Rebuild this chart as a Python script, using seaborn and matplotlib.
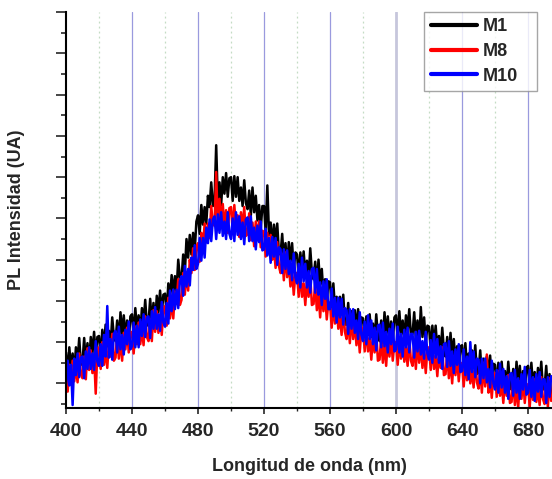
import numpy as np
import pandas as pd
import seaborn as sns
import matplotlib
matplotlib.use("Agg")
import matplotlib.pyplot as plt
from matplotlib.ticker import MultipleLocator, FixedLocator
from matplotlib.lines import Line2D

# Wavelength grid (nm), 1 nm step, 400..694
wavelength = list(range(400, 695))

# PL intensity (a.u.), one row per 10 nm
m1 = [50, 29, 55, 34, 49, 30, 55, 41, 64, 38,
      41, 64, 40, 59, 38, 65, 49, 70, 46, 65,
      66, 45, 72, 55, 77, 56, 71, 56, 84, 65,
      61, 81, 60, 89, 67, 86, 64, 81, 60, 85,
      87, 66, 93, 71, 86, 68, 93, 79, 101, 76,
      79, 102, 78, 98, 77, 105, 89, 110, 87, 106,
      107, 88, 117, 102, 125, 107, 124, 110, 140, 123,
      121, 145, 127, 160, 142, 164, 145, 166, 149, 177,
      183, 165, 193, 174, 191, 175, 202, 191, 215, 192,
      197, 251, 195, 215, 193, 220, 204, 224, 201, 219,
      220, 197, 221, 201, 220, 197, 210, 192, 217, 195,
      189, 207, 183, 210, 186, 202, 178, 193, 170, 192,
      192, 167, 212, 164, 176, 153, 174, 157, 175, 146,
      145, 165, 139, 156, 132, 157, 138, 156, 130, 147,
      145, 123, 147, 129, 148, 126, 139, 122, 151, 127,
      121, 138, 114, 140, 116, 131, 106, 121, 97, 119,
      118, 94, 117, 92, 104, 82, 104, 87, 106, 77,
      77, 98, 72, 90, 67, 91, 73, 92, 67, 84,
      83, 61, 85, 67, 87, 65, 78, 61, 87, 66,
      61, 81, 59, 89, 67, 85, 63, 80, 60, 84,
      86, 64, 90, 67, 81, 62, 86, 71, 92, 66,
      68, 89, 63, 81, 58, 94, 65, 84, 59, 76,
      75, 52, 76, 57, 76, 53, 66, 48, 74, 52,
      46, 65, 42, 69, 46, 63, 40, 56, 33, 56,
      57, 35, 59, 36, 49, 29, 52, 37, 57, 29,
      31, 52, 26, 44, 21, 46, 28, 47, 22, 39,
      38, 16, 40, 22, 41, 19, 32, 15, 41, 20,
      14, 34, 12, 41, 19, 37, 15, 32, 11, 35,
      37, 15, 40, 17, 31, 11, 35, 20, 41, 14,
      16, 37, 11, 29, 7]
m8 = [33, 12, 38, 21, 42, 22, 37, 21, 49, 29,
      25, 46, 24, 54, 33, 52, 30, 48, 10, 52,
      55, 34, 60, 38, 53, 35, 60, 46, 68, 42,
      45, 68, 44, 63, 42, 69, 53, 74, 50, 69,
      70, 49, 75, 58, 79, 58, 73, 57, 85, 65,
      61, 82, 61, 91, 70, 90, 69, 87, 67, 92,
      95, 76, 103, 83, 100, 83, 109, 97, 121, 96,
      101, 127, 106, 128, 110, 140, 127, 151, 130, 152,
      156, 138, 166, 152, 175, 157, 175, 161, 192, 174,
      173, 225, 170, 199, 176, 194, 171, 188, 166, 190,
      191, 168, 193, 169, 183, 162, 186, 170, 191, 163,
      165, 185, 159, 176, 153, 177, 159, 177, 152, 168,
      167, 143, 166, 146, 164, 140, 151, 132, 157, 134,
      127, 145, 120, 147, 123, 138, 114, 129, 106, 127,
      127, 104, 128, 104, 117, 96, 120, 104, 124, 96,
      97, 117, 91, 108, 84, 109, 90, 108, 82, 99,
      97, 74, 97, 78, 96, 73, 85, 67, 92, 70,
      63, 82, 59, 86, 63, 80, 57, 73, 50, 73,
      74, 51, 75, 51, 64, 43, 66, 50, 70, 42,
      43, 65, 40, 59, 37, 63, 46, 66, 42, 60,
      60, 38, 62, 44, 63, 41, 55, 37, 64, 42,
      37, 57, 34, 63, 40, 58, 35, 52, 30, 54,
      55, 33, 57, 34, 47, 27, 50, 35, 55, 28,
      29, 50, 25, 43, 20, 46, 28, 47, 22, 40,
      39, 17, 41, 23, 42, 20, 33, 16, 42, 21,
      15, 34, 11, 40, 17, 48, 11, 27, 6, 29,
      30, 7, 32, 8, 21, 1, 24, 8, 28, 1,
      2, 24, -1, 18, -4, 22, 5, 25, 1, 19,
      19, -3, 22, 4, 24, 2, 16, -1, 26, 5,
      0, 19, -3, 25, 3]
m10 = [19, 42, 18, 38, -1, 44, 28, 49, 26, 45,
       46, 25, 51, 34, 55, 34, 49, 33, 61, 41,
       37, 58, 37, 67, 46, 95, 45, 63, 43, 68,
       71, 50, 75, 53, 67, 48, 72, 58, 80, 53,
       56, 79, 55, 76, 55, 82, 66, 87, 65, 84,
       85, 64, 90, 73, 94, 73, 87, 71, 99, 79,
       75, 98, 78, 110, 90, 111, 92, 111, 93, 119,
       124, 105, 134, 114, 131, 115, 142, 130, 154, 131,
       136, 161, 139, 161, 142, 171, 156, 179, 158, 179,
       182, 160, 184, 166, 186, 163, 177, 160, 186, 165,
       160, 180, 158, 186, 164, 182, 160, 176, 155, 179,
       181, 158, 182, 158, 171, 150, 173, 157, 177, 149,
       150, 170, 144, 161, 137, 162, 143, 161, 135, 152,
       150, 127, 150, 131, 149, 126, 139, 120, 146, 123,
       117, 136, 113, 142, 119, 136, 113, 129, 108, 131,
       132, 108, 131, 106, 118, 96, 119, 102, 121, 92,
       92, 112, 85, 103, 79, 103, 84, 102, 77, 93,
       91, 68, 92, 73, 92, 69, 81, 63, 89, 67,
       61, 80, 58, 86, 63, 81, 58, 74, 52, 76,
       77, 55, 79, 56, 70, 50, 73, 58, 78, 51,
       53, 75, 50, 68, 46, 72, 55, 74, 50, 68,
       68, 45, 70, 51, 71, 48, 61, 44, 70, 49,
       43, 62, 40, 68, 45, 63, 40, 56, 34, 58,
       59, 36, 61, 37, 51, 30, 53, 38, 58, 31,
       32, 53, 28, 46, 24, 60, 31, 51, 26, 44,
       43, 20, 44, 25, 44, 21, 34, 16, 42, 20,
       14, 33, 11, 39, 16, 34, 11, 27, 5, 29,
       30, 8, 33, 11, 25, 5, 29, 14, 36, 9,
       11, 33, 7, 26, 3, 29, 12, 31, 7, 24,
       24, 1, 26, 7, 27]

labels = ["M1", "M8", "M10"]
colors = ["#000000", "#ff0000", "#0000ff"]
x_ticks = [400, 440, 480, 520, 560, 600, 640, 680]

df = pd.concat([
    pd.DataFrame({"wl": wavelength, "I": vals, "muestra": lab})
    for vals, lab in zip([m1, m8, m10], labels)
], ignore_index=True)

sns.set_style("ticks")
plt.rcParams["font.family"] = ["Liberation Sans", "DejaVu Sans"]
plt.rcParams["font.weight"] = "bold"

fig = plt.figure(figsize=(5.52, 4.79), dpi=100)
ax = fig.add_axes([0.1196, 0.1482, 0.8804, 0.8267])

# grid lines
for xv in [440, 480, 520, 560, 640, 680]:
    ax.axvline(xv, color="#9a9ade", lw=0.9, zorder=0)
ax.axvline(600, color="#c6c6dc", lw=2.0, zorder=0)
for xv in [420, 460, 500, 540, 580, 620, 660]:
    ax.axvline(xv, color="#c4dcc4", lw=0.9, ls=(0, (1.5, 2.5)), zorder=0)

sns.lineplot(data=df, x="wl", y="I", hue="muestra", hue_order=labels,
             palette=colors, estimator=None, sort=False, linewidth=1.8, ax=ax,
             legend=False, zorder=2)

ax.set_xlim(400, 694.5)
ax.set_ylim(-3.9, 380.2)

ax.xaxis.set_major_locator(FixedLocator(x_ticks))
ax.xaxis.set_minor_locator(MultipleLocator(20))
ax.yaxis.set_major_locator(FixedLocator(list(range(20, 381, 40))))
ax.yaxis.set_minor_locator(FixedLocator(list(range(0, 361, 40))))
ax.set_xticklabels([str(v) for v in x_ticks], fontsize=14, fontweight="bold")
ax.set_yticklabels([])
ax.tick_params(axis="x", which="major", direction="out", length=4, width=1.2, pad=7)
ax.tick_params(axis="x", which="minor", direction="out", length=2.5, width=1.0)
ax.tick_params(axis="y", which="major", direction="out", length=7, width=1.2)
ax.tick_params(axis="y", which="minor", direction="out", length=3.5, width=1.2)

for s in ["top", "right"]:
    ax.spines[s].set_visible(False)
for s in ["left", "bottom"]:
    ax.spines[s].set_linewidth(1.5)
    ax.spines[s].set_color("black")

ax.set_xlabel("Longitud de onda (nm)", fontsize=13, fontweight="bold", labelpad=13)
ax.set_ylabel("PL Intensidad (UA)", fontsize=13, fontweight="bold", labelpad=19)

handles = [Line2D([], [], color=c, lw=3) for c in colors]
leg = ax.legend(handles, labels, loc="upper left",
                bbox_to_anchor=(0.737, 0.811, 0.232, 0.189), mode="expand",
                borderaxespad=0, frameon=True, fancybox=False, borderpad=0.35,
                handlelength=2.6, handletextpad=0.3, labelspacing=0.42,
                prop={"size": 13, "weight": "bold"})
leg.get_frame().set_edgecolor("#909090")
leg.get_frame().set_linewidth(1.0)

fig.savefig("out.png", dpi=100)
